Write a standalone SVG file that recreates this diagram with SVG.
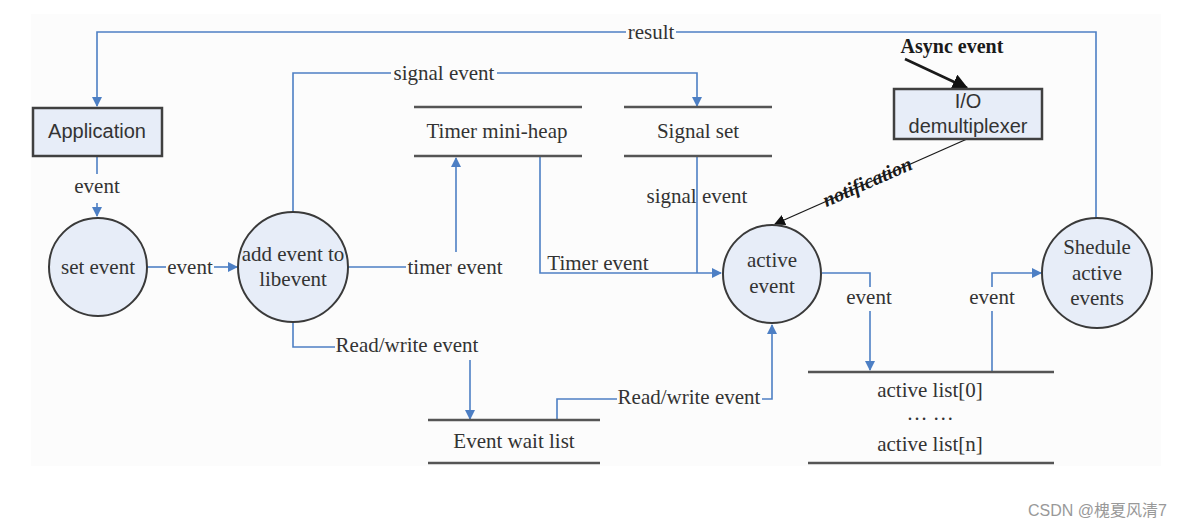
<svg xmlns="http://www.w3.org/2000/svg" width="1182" height="528" viewBox="0 0 1182 528">
<defs>
<style>
.bg{fill:#fcfcfc}
.c{fill:#e7edf8;stroke:#3a3a3a;stroke-width:2}
.box{fill:#e7edf8;stroke:#404040;stroke-width:2.5}
.store{stroke:#555;stroke-width:2.5}
.w{fill:none;stroke:#4d7fc4;stroke-width:1.6}
.k{fill:none;stroke:#1a1a1a}
.t{font-family:"Liberation Serif",serif;font-size:21px;fill:#333;text-anchor:middle}
.s{font-family:"Liberation Sans",Arial,sans-serif;font-size:20px;fill:#333;text-anchor:middle}
.b{font-family:"Liberation Serif",serif;font-size:20px;font-weight:bold;fill:#1a1a1a;text-anchor:middle}
</style>
<marker id="ab" viewBox="0 0 10 10" refX="9" refY="5" markerWidth="10" markerHeight="10" markerUnits="userSpaceOnUse" orient="auto">
<path d="M0,0 L10,5 L0,10 Z" fill="#4d7fc4"/>
</marker>
<marker id="ak" viewBox="0 0 10 10" refX="9" refY="5" markerWidth="16" markerHeight="16" markerUnits="userSpaceOnUse" orient="auto">
<path d="M0,0 L10,5 L0,10 Z" fill="#111"/>
</marker>
<marker id="ak2" viewBox="0 0 10 10" refX="9" refY="5" markerWidth="11" markerHeight="11" markerUnits="userSpaceOnUse" orient="auto">
<path d="M0,0 L10,5 L0,10 Z" fill="#111"/>
</marker>
</defs>
<rect width="1182" height="528" fill="#ffffff"/>
<rect class="bg" x="31" y="14" width="1130" height="452"/>

<g id="connectors">
<path class="w" d="M1096,218 V32 H676"/>
<path class="w" d="M626,32 H97 V106" marker-end="url(#ab)"/>
<path class="w" d="M97,156 V174"/>
<path class="w" d="M97,203 V216" marker-end="url(#ab)"/>
<path class="w" d="M146,267 H166"/>
<path class="w" d="M214,267 H237" marker-end="url(#ab)"/>
<path class="w" d="M293,212 V73 H391"/>
<path class="w" d="M497,73 H697 V106" marker-end="url(#ab)"/>
<path class="w" d="M348,267 H406"/>
<path class="w" d="M456,252 V158" marker-end="url(#ab)"/>
<path class="w" d="M540,156 V273 H721" marker-end="url(#ab)"/>
<path class="w" d="M697,156 V273"/>
<path class="w" d="M293,323 V347 H335"/>
<path class="w" d="M470,360 V419" marker-end="url(#ab)"/>
<path class="w" d="M557,420 V399 H617"/>
<path class="w" d="M762,399 H772 V325" marker-end="url(#ab)"/>
<path class="w" d="M822,273 H870 V287"/>
<path class="w" d="M870,311 V370" marker-end="url(#ab)"/>
<path class="w" d="M992,372 V311"/>
<path class="w" d="M992,287 V273 H1041" marker-end="url(#ab)"/>
<path class="k" stroke-width="2.6" d="M905,59 L967,88" marker-end="url(#ak)"/>
<path class="k" stroke-width="1.3" d="M967,139 L775,224" marker-end="url(#ak2)"/>
<text class="t" x="651" y="39">result</text>
<text class="t" x="97" y="193">event</text>
<text class="t" x="190" y="274">event</text>
<text class="t" x="444" y="80">signal event</text>
<text class="t" x="455" y="274">timer event</text>
<text class="t" x="598" y="270">Timer event</text>
<text class="t" x="697" y="203">signal event</text>
<text class="t" x="407" y="352">Read/write event</text>
<text class="t" x="689" y="404">Read/write event</text>
<text class="t" x="869" y="304">event</text>
<text class="t" x="992" y="304">event</text>
<text class="b" x="952" y="53">Async event</text>
<text class="b" font-style="italic" font-size="19" transform="translate(870,188) rotate(-23.7)">notification</text>
</g>

<g id="application">
<rect class="box" x="33" y="108" width="129" height="48"/>
<text class="s" x="97" y="138">Application</text>
</g>
<g id="set-event">
<circle class="c" cx="98" cy="267" r="49"/>
<text class="t" x="98" y="274">set event</text>
</g>
<g id="add-event">
<circle class="c" cx="293" cy="267" r="55"/>
<text class="t" x="293" y="261">add event to</text>
<text class="t" x="293" y="286">libevent</text>
</g>
<g id="timer-mini-heap">
<line class="store" x1="414" y1="107" x2="582" y2="107"/>
<line class="store" x1="414" y1="156" x2="582" y2="156"/>
<text class="t" x="497" y="138">Timer mini-heap</text>
</g>
<g id="signal-set">
<line class="store" x1="624" y1="107" x2="772" y2="107"/>
<line class="store" x1="624" y1="156" x2="772" y2="156"/>
<text class="t" x="698" y="138">Signal set</text>
</g>
<g id="io-demultiplexer">
<rect class="box" x="894" y="89" width="148" height="50"/>
<text class="s" x="968" y="108">I/O</text>
<text class="s" x="968" y="133">demultiplexer</text>
</g>
<g id="active-event">
<circle class="c" cx="772" cy="274" r="49"/>
<text class="t" x="772" y="267">active</text>
<text class="t" x="772" y="293">event</text>
</g>
<g id="shedule">
<circle class="c" cx="1097" cy="273" r="55"/>
<text class="t" x="1097" y="254">Shedule</text>
<text class="t" x="1097" y="280">active</text>
<text class="t" x="1097" y="305">events</text>
</g>
<g id="event-wait-list">
<line class="store" x1="428" y1="420" x2="600" y2="420"/>
<line class="store" x1="428" y1="463" x2="600" y2="463"/>
<text class="t" x="514" y="448">Event wait list</text>
</g>
<g id="active-list">
<line class="store" x1="808" y1="372" x2="1054" y2="372"/>
<line class="store" x1="808" y1="463" x2="1054" y2="463"/>
<text class="t" x="930" y="397">active list[0]</text>
<text class="t" x="930" y="420">… …</text>
<text class="t" x="930" y="451">active list[n]</text>
</g>
<text x="1167" y="516" font-family="Liberation Sans, Noto Sans CJK SC, sans-serif" font-size="16" fill="#999" text-anchor="end">CSDN @槐夏风清7</text>
</svg>
